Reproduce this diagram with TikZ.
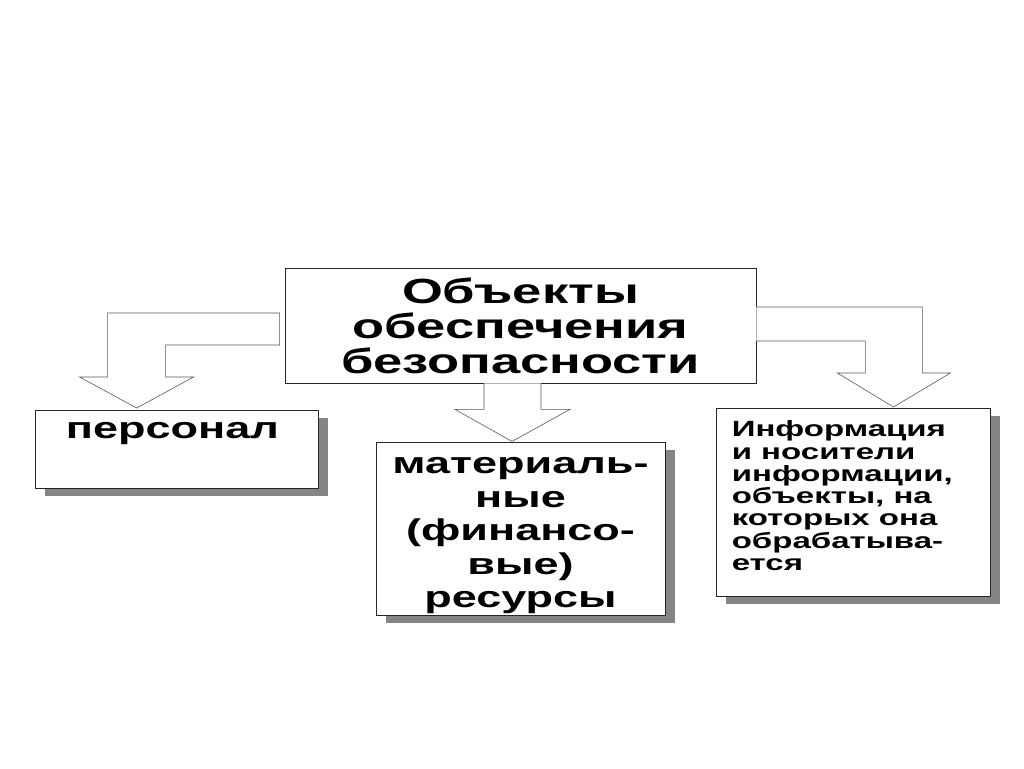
\documentclass[tikz,border=0pt]{standalone}
\usepackage{fontspec}
\setmainfont{Liberation Sans}[FakeStretch=1.5]
\usetikzlibrary{shadows}

\begin{document}
\begin{tikzpicture}[x=1pt, y=-1pt, box/.style={draw=black!85, line width=0.8pt, fill=white, inner sep=0pt}, shadowbox/.style={box, drop shadow={shadow xshift=10pt, shadow yshift=-8pt, fill=black!48, opacity=1}}, blockarrow/.style={draw=black!65, line width=0.6pt, fill=white, line join=miter}]
        \fill[white] (0,0) rectangle (1024,768);
        \node[box, minimum width=471, minimum height=115, align=center, font=\bfseries\fontsize{35}{35}\selectfont] (obj) at (520.5,325.5) {Объекты\\обеспечения\\безопасности};
        \node[shadowbox, minimum width=283, minimum height=78] (pers) at (176.5,449) {};
        \node[anchor=base, font=\bfseries\fontsize{30}{30}\selectfont] (perstext) at ([shift={(-4,29)}]pers.north) {персонал};
        \node[shadowbox, minimum width=289, minimum height=173] (res) at (520.5,528.5) {};
        \node[anchor=north, inner sep=0pt, align=center, font=\bfseries\fontsize{30}{33.5}\selectfont] (restext) at ([shift={(0,16)}]res.north) {материаль-\\ные\\(финансо-\\вые)\\ресурсы};
        \node[shadowbox, minimum width=274, minimum height=188] (info) at (853,502) {};
        \node[anchor=north west, inner sep=0pt, align=left, font=\bfseries\fontsize{22}{22.3}\selectfont] (infotext) at ([shift={(16,13)}]info.north west) {Информация\\и носители\\информации,\\объекты, на\\которых она\\обрабатыва-\\ется};
        \draw[blockarrow] ([shift={(-5,-12.5)}]obj.west) -- ++(-172,0) -- ++(0,64) -- ++(-28,0) -- ++(57,31) -- ++(57,-31) -- ++(-28,0) -- ++(0,-32) -- ++(114,0) -- cycle;
        \draw[blockarrow] ([xshift=-36.5]obj.south) -- ++(0,26) -- ++(-29,0) -- ++(57,32) -- ++(58,-32) -- ++(-29,0) -- ++(0,-26);
        \draw[blockarrow] ([shift={(0,-18.5)}]obj.east) -- ++(166,0) -- ++(0,66) -- ++(28,0) -- ++(-57,34) -- ++(-56,-34) -- ++(28,0) -- ++(0,-32) -- ++(-109,0);
\end{tikzpicture}
\end{document}
